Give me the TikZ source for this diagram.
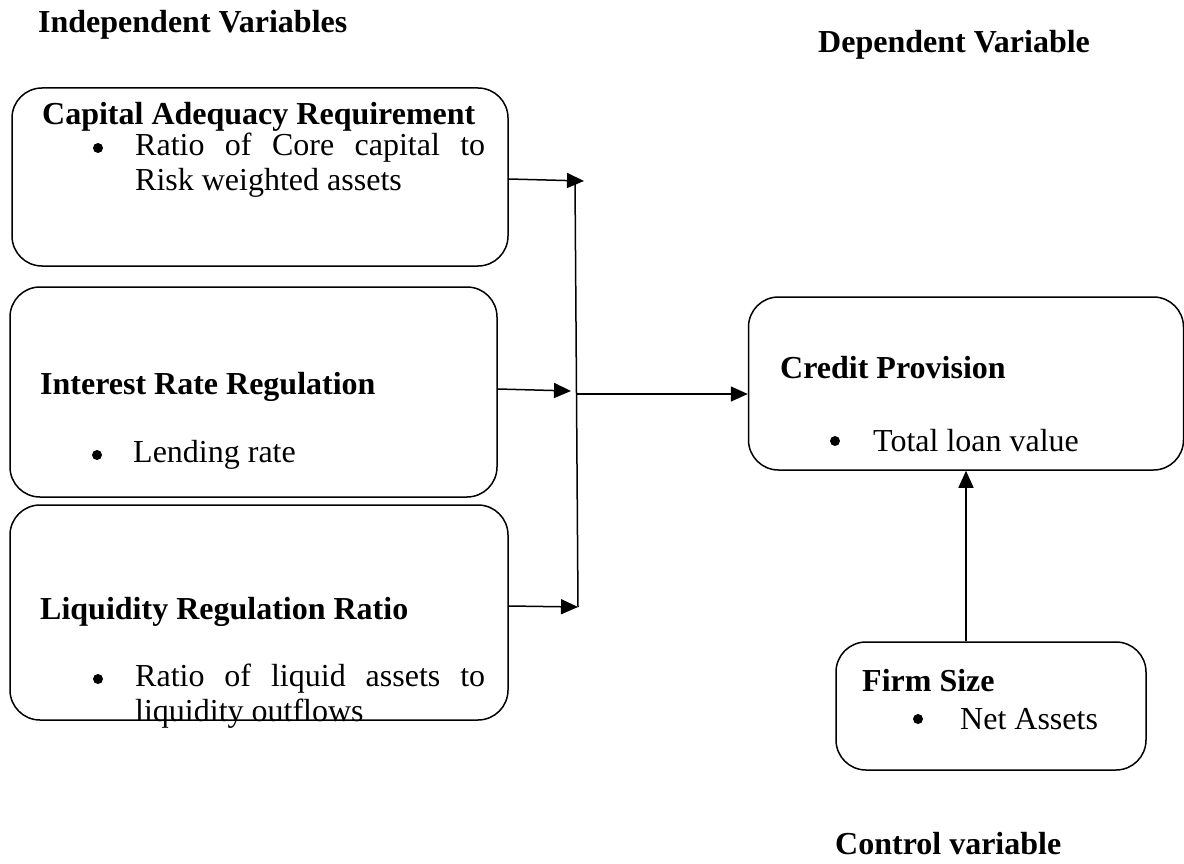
\documentclass[tikz,border=0pt]{standalone}
\usepackage{fontspec}
\setmainfont{Liberation Serif}
\usetikzlibrary{arrows.meta}

\begin{document}
\begin{tikzpicture}[x=1pt, y=-1pt, >={Triangle[length=17pt,width=15pt]},
    box/.style={draw, line width=1.5pt, rounded corners=30pt, inner sep=0pt},
    head/.style={anchor=west, inner sep=0pt, font=\fontsize{32}{38}\selectfont\bfseries},
    txt/.style={anchor=west, inner sep=0pt, font=\fontsize{32}{38}\selectfont},
    dot/.style={circle, fill, inner sep=0pt, minimum size=10pt},
    link/.style={line width=1.5pt}]
    \useasboundingbox (0,0) rectangle (1184,864);

    % Tieu de cac nhom bien
    \node[head] (indep) at (38,25) {Independent Variables};
    \node[head] (dep) at (818,45) {Dependent Variable};
    \node[head] (ctrl) at (835,844) {Control variable};

    % Cac khung
    \node[box, minimum width=496pt, minimum height=178pt] (cap) at (260,177) {};
    \node[box, minimum width=487pt, minimum height=210pt] (int) at (253.5,392) {};
    \node[box, minimum width=498pt, minimum height=215pt] (liq) at (259,612.5) {};
    \node[box, minimum width=435pt, minimum height=173pt] (cred) at (966,383.5) {};
    \node[box, minimum width=310pt, minimum height=128pt] (firm) at (991,706) {};

    % Noi dung khung Capital Adequacy
    \node[head] (capT) at (42,117) {Capital Adequacy Requirement};
    \node[dot] (capB) at (98,148) {};
    \node[txt] (capL1) at (135,148) {\makebox[350pt][s]{Ratio of Core capital to}};
    \node[txt] (capL2) at (135,183) {Risk weighted assets};

    % Noi dung khung Interest Rate
    \node[head] (intT) at (40,387) {Interest Rate Regulation};
    \node[dot] (intB) at (97,455) {};
    \node[txt] (intL1) at (133,455) {Lending rate};

    % Noi dung khung Liquidity
    \node[head] (liqT) at (40,612) {Liquidity Regulation Ratio};
    \node[dot] (liqB) at (98,679) {};
    \node[txt] (liqL1) at (135,679) {\makebox[350pt][s]{Ratio of liquid assets to}};
    \node[txt] (liqL2) at (135,714) {liquidity outflows};

    % Noi dung khung Credit Provision
    \node[head] (credT) at (780,368) {Credit Provision};
    \node[dot] (credB) at (835,441) {};
    \node[txt] (credL1) at (873,441) {Total loan value};

    % Noi dung khung Firm Size
    \node[head] (firmT) at (862,681) {Firm Size};
    \node[dot] (firmB) at (918,719) {};
    \node[txt] (firmL1) at (960,719) {Net Assets};

    % Duong doc gom cac mui ten
    \coordinate (top) at (575,180);
    \coordinate (bot) at (578,607);
    \coordinate (mid) at (576,394);
    \draw[link] (top) -- (bot);

    % Cac mui ten
    \draw[link, ->] (cap.east |- 0,179) -- (584,181);
    \draw[link, ->] (int.east |- 0,389) -- (571,391);
    \draw[link, ->] (liq.east |- 0,606) -- (bot);
    \draw[link, ->] (mid) -- (cred.west |- mid);
    \draw[link, ->] (cred.south |- firm.north) -- (cred.south);
\end{tikzpicture}
\end{document}
